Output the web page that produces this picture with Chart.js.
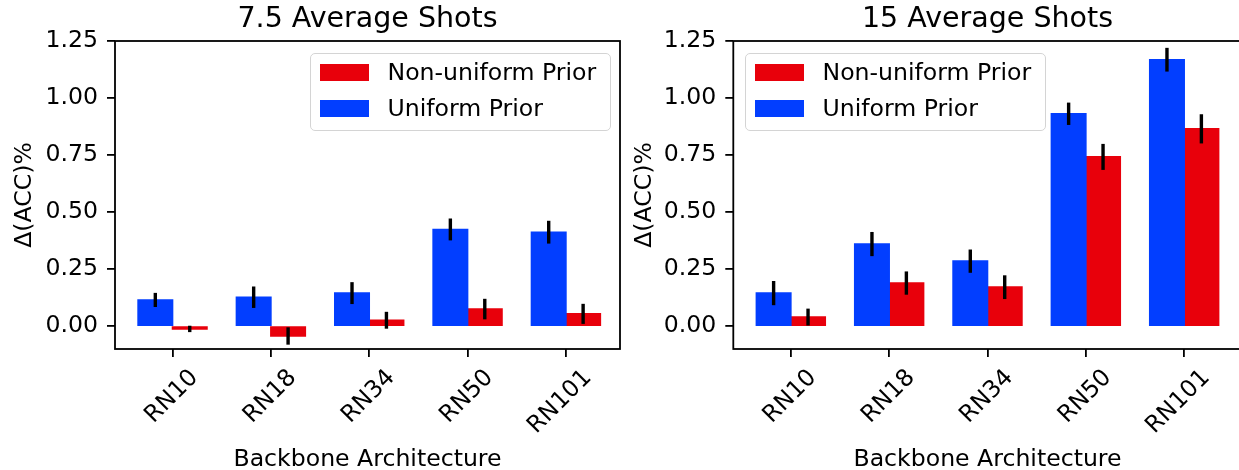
<!DOCTYPE html>
<html>
<head>
<meta charset="utf-8">
<script src="https://cdn.jsdelivr.net/npm/chart.js@4.4.1/dist/chart.umd.min.js"></script>
<style>
  html, body { margin: 0; padding: 0; background: #fff; width: 1239px; height: 470px; overflow: hidden; position: relative; }
  canvas { position: absolute; top: 0; }
  #c1 { left: 0; }
  #c2 { left: 620px; }
  .legend { position: absolute; top: 53px; width: 301px; height: 78px; box-sizing: border-box;
    border: 1.5px solid #d4d4d4; border-radius: 5px; background: rgba(255,255,255,0.8);
    font-family: 'DejaVu Sans'; font-size: 23.6px; color: #000; padding-top: 0; }
  .legend .row { display: flex; align-items: center; height: 36px; white-space: nowrap; }
  .legend .sw { display: inline-block; width: 49px; height: 17px; margin-left: 8.5px; margin-right: 19px; }
</style>
</head>
<body>
<canvas id="c1" width="621" height="470"></canvas>
<canvas id="c2" width="623" height="470"></canvas>
<div class="legend" id="lg1" style="left:310px"></div>
<div class="legend" id="lg2" style="left:745px"></div>
<script>
const categories = ['RN10', 'RN18', 'RN34', 'RN50', 'RN101'];
const yTicks = [0, 0.25, 0.5, 0.75, 1.0, 1.25];

// 7.5 average shots
const uniform7 = [0.115, 0.127, 0.145, 0.424, 0.412];
const uniformErr7 = [0.031, 0.047, 0.048, 0.048, 0.05];
const nonUniform7 = [-0.012, -0.043, 0.026, 0.075, 0.054];
const nonUniformErr7 = [0.014, 0.038, 0.037, 0.045, 0.044];

// 15 average shots
const uniform15 = [0.145, 0.36, 0.285, 0.931, 1.168];
const uniformErr15 = [0.053, 0.053, 0.051, 0.049, 0.052];
const nonUniform15 = [0.04, 0.189, 0.171, 0.742, 0.865];
const nonUniformErr15 = [0.037, 0.051, 0.052, 0.057, 0.064];

const blue = '#023eff';
const red = '#e8000b';
const fs = 23.6;

Chart.defaults.font.family = 'DejaVu Sans';
Chart.defaults.color = '#000';

const meas = document.createElement('canvas').getContext('2d');
meas.font = fs + 'px "DejaVu Sans"';

// error bars + full axes frame
const errorBars = {
    id: 'errorBars',
    afterDatasetsDraw(chart) {
        const ctx = chart.ctx, y = chart.scales.y;
        ctx.save();
        ctx.strokeStyle = '#000';
        ctx.lineWidth = 3.4;
        chart.data.datasets.forEach((ds, d) => {
            chart.getDatasetMeta(d).data.forEach((bar, i) => {
                const v = ds.data[i].y, e = ds.errors[i];
                ctx.beginPath();
                ctx.moveTo(bar.x, y.getPixelForValue(v - e));
                ctx.lineTo(bar.x, y.getPixelForValue(v + e));
                ctx.stroke();
            });
        });
        const a = chart.chartArea;
        ctx.lineWidth = 1.8;
        ctx.strokeRect(a.left, a.top, a.right - a.left, a.bottom - a.top);
        ctx.restore();
    }
};

function makeChart(id, title, uniform, uniformErr, nonUniform, nonUniformErr, xMax, axisLeft, rightPad) {
    const ticksGrid = { display: true, offset: false, drawOnChartArea: false, drawTicks: true, tickLength: 8, color: '#000', lineWidth: 1.8 };
    return new Chart(document.getElementById(id), {
        type: 'bar',
        data: {
            datasets: [{
                label: 'Uniform Prior',
                data: categories.map((c, i) => ({ x: i, y: uniform[i] })),
                errors: uniformErr,
                backgroundColor: blue,
                categoryPercentage: 0.7,
                barPercentage: 1,
                inflateAmount: 0.8
            }, {
                label: 'Non-uniform Prior',
                data: categories.map((c, i) => ({ x: i, y: nonUniform[i] })),
                errors: nonUniformErr,
                backgroundColor: red,
                categoryPercentage: 0.7,
                barPercentage: 1,
                inflateAmount: 0.8
            }]
        },
        options: {
            responsive: false,
            animation: false,
            layout: { padding: { left: 0, right: rightPad, top: 0, bottom: 0 } },
            plugins: {
                legend: { display: false },
                tooltip: { enabled: false },
                title: {
                    display: true, text: title, fullSize: false, color: '#000',
                    font: { size: 28.5, weight: 'normal', lineHeight: 1.2 },
                    padding: { top: 2, bottom: 4.8 }
                }
            },
            scales: {
                x: {
                    type: 'linear', min: -0.585, max: xMax, offset: false,
                    afterFit: s => { s.height = 121; },
                    afterBuildTicks: s => { s.ticks = categories.map((c, i) => ({ value: i })); },
                    grid: ticksGrid,
                    border: { display: false },
                    ticks: {
                        autoSkip: false, minRotation: 45, maxRotation: 45, padding: 7,
                        font: { size: fs }, color: '#000',
                        callback: v => categories[v],
                        labelOffset: c => c.tick ? meas.measureText(c.tick.label).width * 0.3536 : 22
                    },
                    title: { display: true, text: 'Backbone Architecture', color: '#000', font: { size: fs, lineHeight: 1 }, padding: { top: 0, bottom: -2 } }
                },
                y: {
                    min: -0.1, max: 1.25,
                    afterFit: s => { s.width = axisLeft; },
                    afterBuildTicks: s => { s.ticks = yTicks.map(v => ({ value: v })); },
                    grid: ticksGrid,
                    border: { display: false },
                    ticks: { padding: 9, font: { size: fs }, color: '#000', callback: v => v.toFixed(2) },
                    title: { display: true, text: 'Δ(ACC)%', color: '#000', font: { size: fs, lineHeight: 1 }, padding: { top: 13 } }
                }
            }
        },
        plugins: [errorBars]
    });
}

function buildLegend(el, chart) {
    chart.data.datasets.slice().reverse().forEach(ds => {
        const row = document.createElement('div');
        row.className = 'row';
        const sw = document.createElement('span');
        sw.className = 'sw';
        sw.style.background = ds.backgroundColor;
        const tx = document.createElement('span');
        tx.textContent = ds.label;
        row.append(sw, tx);
        el.append(row);
    });
}

const chart1 = makeChart('c1', '7.5 Average Shots', uniform7, uniformErr7, nonUniform7, nonUniformErr7, 4.55, 115, 1);
const chart2 = makeChart('c2', '15 Average Shots', uniform15, uniformErr15, nonUniform15, nonUniformErr15, 4.585, 113.3, 1.3);
buildLegend(document.getElementById('lg1'), chart1);
buildLegend(document.getElementById('lg2'), chart2);
</script>
</body>
</html>
